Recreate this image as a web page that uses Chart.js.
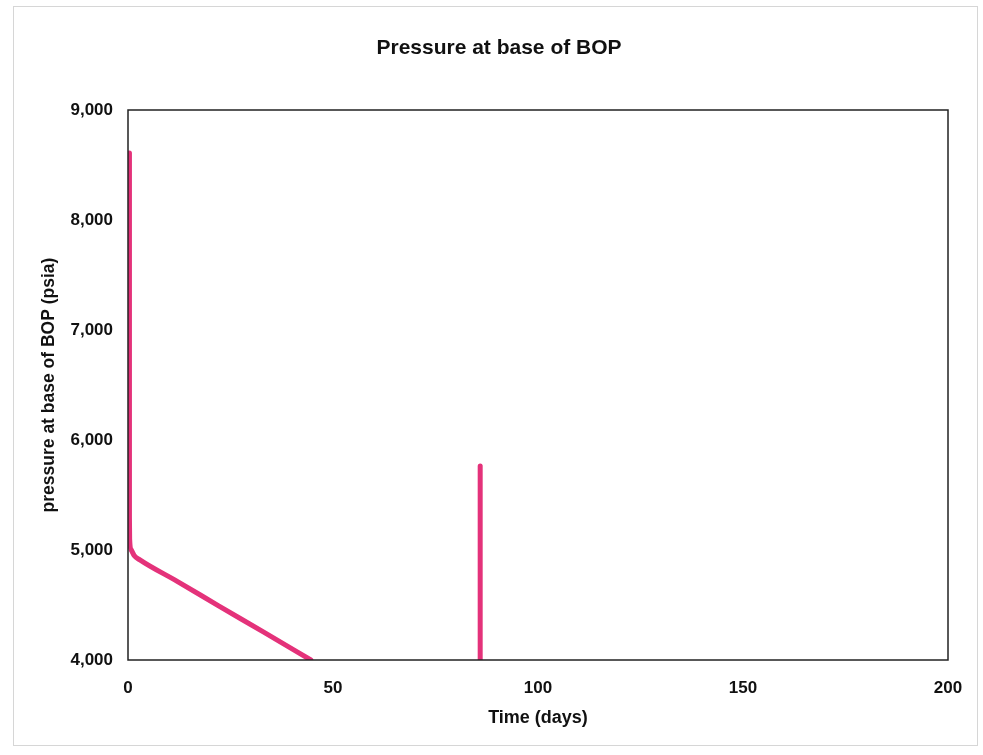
<!DOCTYPE html>
<html>
<head>
<meta charset="utf-8">
<script src="https://cdn.jsdelivr.net/npm/chart.js@4.4.0/dist/chart.umd.min.js"></script>
<style>
    html, body { margin: 0; padding: 0; background: #fff; }
    #wrap { width: 983px; height: 755px; }
</style>
</head>
<body>
<div id="wrap"><canvas id="bopChart" width="983" height="755"></canvas></div>
<script>
// values (days, psia)
const timeDrawdown = [0.35, 0.35, 0.4, 0.8, 1.5, 2.9, 12, 22, 33, 44.6];
const pressureDrawdown = [8610, 5300, 5100, 5000, 4950, 4910, 4715, 4495, 4255, 4000];
const timeRestart = [85.9, 85.9];
const pressureRestart = [4000, 5764];

const xTicks = [0, 50, 100, 150, 200];
const yTicks = [4000, 5000, 6000, 7000, 8000, 9000];

const lineColor = "#e4327a";
const fontFamily = "'Liberation Sans', Arial, sans-serif";

function toPoints(xs, ys) {
    return xs.map((x, i) => ({ x: x, y: ys[i] }));
}

const framePlugin = {
    id: 'frame',
    beforeDraw(chart) {
        const ctx = chart.ctx;
        ctx.save();
        ctx.fillStyle = "#fff";
        ctx.fillRect(0, 0, chart.width, chart.height);
        ctx.strokeStyle = "#d6d6d6";
        ctx.lineWidth = 1;
        ctx.strokeRect(13.5, 6.5, 964, 739);
        ctx.fillStyle = "#111";
        ctx.font = "bold 21px " + fontFamily;
        ctx.textAlign = "center";
        ctx.textBaseline = "middle";
        ctx.fillText("Pressure at base of BOP", 499, 48);
        ctx.restore();
    },
    afterDraw(chart) {
        const a = chart.chartArea;
        const ctx = chart.ctx;
        ctx.save();
        ctx.strokeStyle = "#222";
        ctx.lineWidth = 1.5;
        ctx.strokeRect(a.left, a.top, a.right - a.left, a.bottom - a.top);
        ctx.restore();
    }
};

const ctx = document.getElementById('bopChart').getContext('2d');

new Chart(ctx, {
    type: 'scatter',
    data: {
        datasets: [{
            data: toPoints(timeDrawdown, pressureDrawdown),
            showLine: true,
            borderColor: lineColor,
            borderWidth: 5,
            pointRadius: 0,
            cubicInterpolationMode: 'monotone',
            borderCapStyle: 'round',
            borderJoinStyle: 'round'
        }, {
            data: toPoints(timeRestart, pressureRestart),
            showLine: true,
            borderColor: lineColor,
            borderWidth: 5,
            pointRadius: 0,
            borderCapStyle: 'round'
        }]
    },
    plugins: [framePlugin],
    options: {
        responsive: false,
        animation: false,
        layout: {
            padding: { left: 0, top: 110, right: 35, bottom: 0 }
        },
        plugins: {
            legend: { display: false },
            tooltip: { enabled: false }
        },
        scales: {
            x: {
                type: 'linear',
                min: 0,
                max: 200,
                afterFit: function (scale) { scale.height = 95; },
                afterBuildTicks: function (scale) {
                    scale.ticks = xTicks.map(v => ({ value: v }));
                },
                grid: { display: false, drawTicks: false },
                border: { display: false },
                ticks: {
                    padding: 18,
                    color: "#111",
                    font: { family: fontFamily, size: 17, weight: 'bold' },
                    maxRotation: 0
                },
                title: {
                    display: true,
                    text: "Time (days)",
                    color: "#111",
                    font: { family: fontFamily, size: 18, weight: 'bold' },
                    padding: { top: 0, bottom: 26 }
                }
            },
            y: {
                type: 'linear',
                min: 4000,
                max: 9000,
                afterFit: function (scale) { scale.width = 128; },
                afterBuildTicks: function (scale) {
                    scale.ticks = yTicks.map(v => ({ value: v }));
                },
                grid: { display: false, drawTicks: false },
                border: { display: false },
                ticks: {
                    padding: 15,
                    color: "#111",
                    font: { family: fontFamily, size: 17, weight: 'bold' },
                    callback: function (value) {
                        return value.toLocaleString('en-US');
                    }
                },
                title: {
                    display: true,
                    text: "pressure at base of BOP (psia)",
                    color: "#111",
                    font: { family: fontFamily, size: 17.5, weight: 'bold' },
                    padding: { top: 39, bottom: 0 }
                }
            }
        }
    }
});
</script>
</body>
</html>
